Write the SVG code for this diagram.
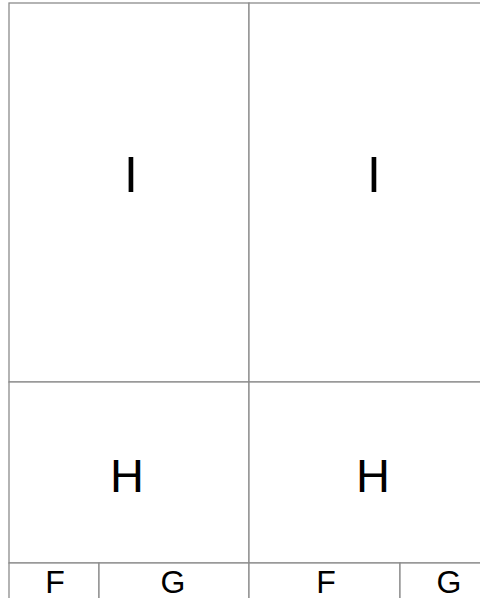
<svg xmlns="http://www.w3.org/2000/svg" width="480" height="598" viewBox="0 0 480 598">
<style>
.c{fill:#fff;stroke:#8c8c8c;stroke-width:1.3}
.t{font-family:"Liberation Sans",Arial,sans-serif;fill:#000;text-anchor:middle}
.big{font-size:50px}
.mid{font-size:47px}
.sm{font-size:32px}
</style>
<rect width="480" height="598" fill="#fff"/>
<g id="I1"><rect class="c" x="9" y="3" width="240" height="379"/><text class="t big" x="131" y="192">I</text></g>
<g id="I2"><rect class="c" x="249" y="3" width="250" height="379"/><text class="t big" x="374" y="192">I</text></g>
<g id="H1"><rect class="c" x="9" y="382" width="240" height="181"/><text class="t mid" x="127" y="492">H</text></g>
<g id="H2"><rect class="c" x="249" y="382" width="250" height="181"/><text class="t mid" x="373" y="492">H</text></g>
<g id="F1"><rect class="c" x="9" y="563" width="90" height="50"/><text class="t sm" x="55" y="593">F</text></g>
<g id="G1"><rect class="c" x="99" y="563" width="150" height="50"/><text class="t sm" x="173" y="593">G</text></g>
<g id="F2"><rect class="c" x="249" y="563" width="151" height="50"/><text class="t sm" x="326" y="593">F</text></g>
<g id="G2"><rect class="c" x="400" y="563" width="99" height="50"/><text class="t sm" x="449" y="593">G</text></g>
<g id="connectors"/>
</svg>
